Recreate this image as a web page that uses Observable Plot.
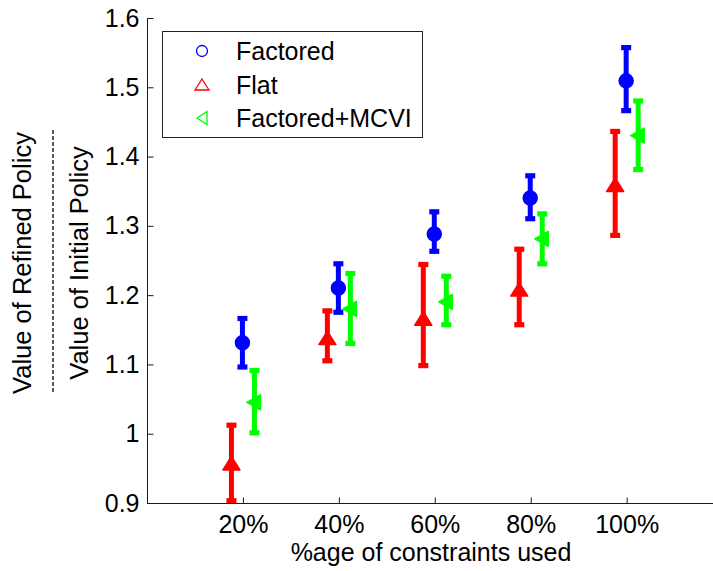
<!DOCTYPE html>
<html>
<head>
<meta charset="utf-8">
<script src="https://cdn.jsdelivr.net/npm/d3@7"></script>
<script src="https://cdn.jsdelivr.net/npm/@observablehq/plot@0.6"></script>
<style>
  html, body { margin: 0; padding: 0; background: #fff; overflow: hidden; }
  #chart { width: 713px; height: 571px; }
  #chart svg { display: block; }
</style>
</head>
<body>
<div id="chart"></div>
<script>
// ---- data ----
const seriesNames = ["Factored", "Flat", "Factored+MCVI"];
const seriesColors = ["#0000ff", "#ff0000", "#00ff00"];
const constraintPct = [20, 40, 60, 80, 100];

const factoredMean = [1.132, 1.211, 1.289, 1.341, 1.510];
const factoredLow  = [1.097, 1.176, 1.264, 1.311, 1.467];
const factoredHigh = [1.167, 1.246, 1.321, 1.373, 1.558];

const flatMean = [0.957, 1.138, 1.166, 1.208, 1.359];
const flatLow  = [0.904, 1.106, 1.099, 1.158, 1.287];
const flatHigh = [1.013, 1.178, 1.245, 1.267, 1.437];

const mcviMean = [1.046, 1.181, 1.191, 1.282, 1.431];
const mcviLow  = [1.002, 1.131, 1.158, 1.246, 1.382];
const mcviHigh = [1.092, 1.232, 1.228, 1.318, 1.481];

const yTickValues = [0.9, 1, 1.1, 1.2, 1.3, 1.4, 1.5, 1.6];
const xTickValues = [20, 40, 60, 80, 100];
const xTickLabels = ["20%", "40%", "60%", "80%", "100%"];
const xTitle = "%age of constraints used";
const yTitleTop = "Value of Refined Policy";
const yTitleBottom = "Value of Initial Policy";

// ---- styling ----
const FONT = "'Liberation Sans', Arial, Helvetica, sans-serif";
const FONT_SIZE = 25;
const AXIS = "#1a1a1a";

const circleSym = { draw(c) { c.moveTo(7, 0); c.arc(0, 0, 7, 0, 2 * Math.PI); } };
const upTriSym = { draw(c) { c.moveTo(0, -7.5); c.lineTo(8.5, 6); c.lineTo(-8.5, 6); c.closePath(); } };
const leftTriSym = { draw(c) { c.moveTo(-7.5, 0); c.lineTo(6, -7.5); c.lineTo(6, 7.5); c.closePath(); } };
const capSym = { draw(c) { c.rect(-5, -2.6, 10, 5.2); } };
const tickUpSym = { draw(c) { c.moveTo(0, 0); c.lineTo(0, -6); } };
const tickRightSym = { draw(c) { c.moveTo(0, 0); c.lineTo(6, 0); } };

const series = [
  { mean: factoredMean, low: factoredLow, high: factoredHigh, symbol: circleSym, dx: -1 },
  { mean: flatMean, low: flatLow, high: flatHigh, symbol: upTriSym, dx: -12 },
  { mean: mcviMean, low: mcviLow, high: mcviHigh, symbol: leftTriSym, dx: 11 }
];

const dataMarks = [];
series.forEach((s, k) => {
  const color = seriesColors[k];
  const rows = constraintPct.map((x, i) => ({ x, mean: s.mean[i], low: s.low[i], high: s.high[i], name: seriesNames[k] }));
  dataMarks.push(
    Plot.ruleX(rows, { x: "x", y1: "low", y2: "high", stroke: color, strokeWidth: 5, dx: s.dx, clip: true }),
    Plot.dot(rows, { x: "x", y: "low", symbol: capSym, fill: color, stroke: "none", dx: s.dx, clip: true }),
    Plot.dot(rows, { x: "x", y: "high", symbol: capSym, fill: color, stroke: "none", dx: s.dx, clip: true }),
    Plot.dot(rows, { x: "x", y: "mean", symbol: s.symbol, fill: color, stroke: color, strokeWidth: 1.5, strokeLinejoin: "round", dx: s.dx, clip: true })
  );
});

const plot = Plot.plot({
  width: 713,
  height: 571,
  marginLeft: 147,
  marginRight: 0,
  marginTop: 18,
  marginBottom: 68,
  style: { fontFamily: FONT, fontSize: FONT_SIZE + "px", color: "#000", background: "#fff", overflow: "hidden" },
  x: { domain: [0, 118] },
  y: { domain: [0.9, 1.6] },
  marks: [
    ...dataMarks,
    Plot.ruleX([0], { stroke: AXIS, strokeWidth: 1 }),
    Plot.ruleY([0.9], { stroke: AXIS, strokeWidth: 1 }),
    Plot.dot(xTickValues, { x: d => d, frameAnchor: "bottom", symbol: tickUpSym, stroke: AXIS, fill: "none", strokeWidth: 1 }),
    Plot.dot(yTickValues, { y: d => d, frameAnchor: "left", symbol: tickRightSym, stroke: AXIS, fill: "none", strokeWidth: 1 }),
    Plot.axisY({ ticks: yTickValues, tickSize: 0, tickPadding: 8, tickFormat: d => String(d), label: null, fontSize: FONT_SIZE, fill: "#000" }),
    Plot.axisX({ ticks: xTickValues, tickSize: 0, tickPadding: 12, tickFormat: d => xTickLabels[xTickValues.indexOf(d)], label: null, fontSize: FONT_SIZE, fill: "#000" })
  ]
});

document.getElementById("chart").appendChild(plot);

// ---- titles and legend (layout text) ----
const svg = d3.select(plot);
const g = svg.append("g").attr("font-family", FONT).attr("font-size", FONT_SIZE).attr("fill", "#000");

// x title
g.append("text").attr("x", 431).attr("y", 561).attr("text-anchor", "middle").text(xTitle);

// y title as a fraction
g.append("text").attr("transform", "translate(31,263) rotate(-90)").attr("text-anchor", "middle")
  .attr("font-size", 25.5).text(yTitleTop);
g.append("line").attr("x1", 53).attr("x2", 53).attr("y1", 130).attr("y2", 394)
  .attr("stroke", "#000").attr("stroke-width", 1.3).attr("stroke-dasharray", "4,2");
g.append("text").attr("transform", "translate(88,263) rotate(-90)").attr("text-anchor", "middle")
  .attr("font-size", 25.5).text(yTitleBottom);

// legend
const lg = g.append("g");
lg.append("rect").attr("x", 162.5).attr("y", 31.5).attr("width", 260).attr("height", 106)
  .attr("fill", "#fff").attr("stroke", "#222").attr("stroke-width", 1);
const legendY = [51, 85, 118];
const legendShapes = [
  p => { p.moveTo(5.5, 0); p.arc(0, 0, 5.5, 0, 2 * Math.PI); },
  p => { p.moveTo(0, -6); p.lineTo(7, 5); p.lineTo(-7, 5); p.closePath(); },
  p => { p.moveTo(-5, 0); p.lineTo(5, -6.5); p.lineTo(5, 6.5); p.closePath(); }
];
seriesNames.forEach((name, k) => {
  const p = d3.path();
  legendShapes[k](p);
  lg.append("path").attr("d", p.toString()).attr("transform", `translate(202,${legendY[k]})`)
    .attr("fill", "none").attr("stroke", seriesColors[k]).attr("stroke-width", 1.3);
  lg.append("text").attr("x", 236).attr("y", legendY[k]).attr("dy", "0.36em")
    .attr("text-anchor", "start").text(name);
});
</script>
</body>
</html>
